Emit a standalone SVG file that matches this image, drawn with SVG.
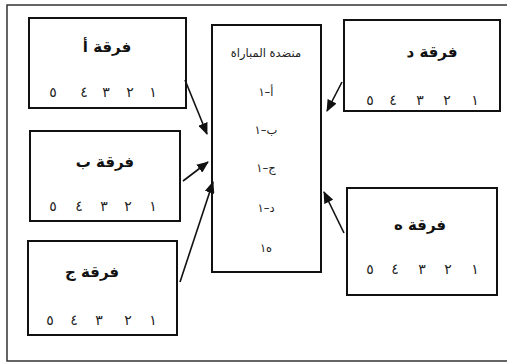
<svg xmlns="http://www.w3.org/2000/svg" width="507" height="362" viewBox="0 0 507 362">
<defs>
<marker id="ah" markerWidth="12" markerHeight="10" refX="11" refY="5" orient="auto" markerUnits="userSpaceOnUse">
<path d="M0,0 L12,5 L0,10 Z" fill="#111"/>
</marker>
<style>
.box{fill:#fff;stroke:#111;stroke-width:2}
.title{font-family:"DejaVu Sans",sans-serif;font-size:15px;font-weight:bold;fill:#111;text-anchor:middle}
.dig{font-family:"DejaVu Sans",sans-serif;font-size:14px;fill:#222;text-anchor:middle}
.mid{font-family:"DejaVu Sans",sans-serif;font-size:11.5px;fill:#222;text-anchor:middle}
.conn{stroke:#111;stroke-width:1.6;fill:none;marker-end:url(#ah)}
</style>
</defs>
<rect x="0" y="0" width="507" height="362" fill="#fff"/>
<rect x="7" y="5" width="505" height="356" fill="none" stroke="#333" stroke-width="1.5"/>
<g id="teamA">
<rect class="box" x="29" y="18" width="157" height="90"/>
<text class="title" x="107" y="52" direction="rtl">فرقة أ</text>
<text class="dig" x="53" y="97">٥</text><text class="dig" x="84" y="97">٤</text><text class="dig" x="106" y="97">٣</text><text class="dig" x="130" y="97">٢</text><text class="dig" x="153" y="97">١</text>
</g>
<g id="teamB">
<rect class="box" x="30" y="131" width="150" height="90"/>
<text class="title" x="105" y="167" direction="rtl">فرقة ب</text>
<text class="dig" x="53" y="211">٥</text><text class="dig" x="79" y="211">٤</text><text class="dig" x="104" y="211">٣</text><text class="dig" x="128" y="211">٢</text><text class="dig" x="153" y="211">١</text>
</g>
<g id="teamJ">
<rect class="box" x="28" y="241" width="149" height="94"/>
<text class="title" x="92" y="277" direction="rtl">فرقة ج</text>
<text class="dig" x="50" y="325">٥</text><text class="dig" x="74" y="325">٤</text><text class="dig" x="99" y="325">٣</text><text class="dig" x="128" y="325">٢</text><text class="dig" x="153" y="325">١</text>
</g>
<g id="teamD">
<rect class="box" x="344" y="20" width="156" height="91"/>
<text class="title" x="432" y="57" direction="rtl">فرقة د</text>
<text class="dig" x="370" y="105">٥</text><text class="dig" x="393" y="105">٤</text><text class="dig" x="420" y="105">٣</text><text class="dig" x="447" y="105">٢</text><text class="dig" x="475" y="105">١</text>
</g>
<g id="teamH">
<rect class="box" x="347" y="188" width="150" height="107"/>
<text class="title" x="420" y="230" direction="rtl">فرقة ه</text>
<text class="dig" x="370" y="274">٥</text><text class="dig" x="395" y="274">٤</text><text class="dig" x="422" y="274">٣</text><text class="dig" x="448" y="274">٢</text><text class="dig" x="475" y="274">١</text>
</g>
<g id="table">
<rect class="box" x="212" y="25" width="109" height="247"/>
<text class="mid" x="266" y="57" direction="rtl">منضدة المباراة</text>
<text class="mid" x="266" y="96" direction="rtl">أ–١</text>
<text class="mid" x="266" y="134" direction="rtl">ب–١</text>
<text class="mid" x="266" y="172" direction="rtl">ج–١</text>
<text class="mid" x="266" y="212" direction="rtl">د–١</text>
<text class="mid" x="266" y="252" direction="rtl">ه١</text>
</g>
<g id="connectors">
<line class="conn" x1="185" y1="80" x2="207" y2="134"/>
<line class="conn" x1="183" y1="181" x2="208" y2="162"/>
<line class="conn" x1="180" y1="282" x2="213" y2="182"/>
<line class="conn" x1="342" y1="82" x2="327" y2="111"/>
<line class="conn" x1="344" y1="233" x2="324" y2="192"/>
</g>
</svg>
